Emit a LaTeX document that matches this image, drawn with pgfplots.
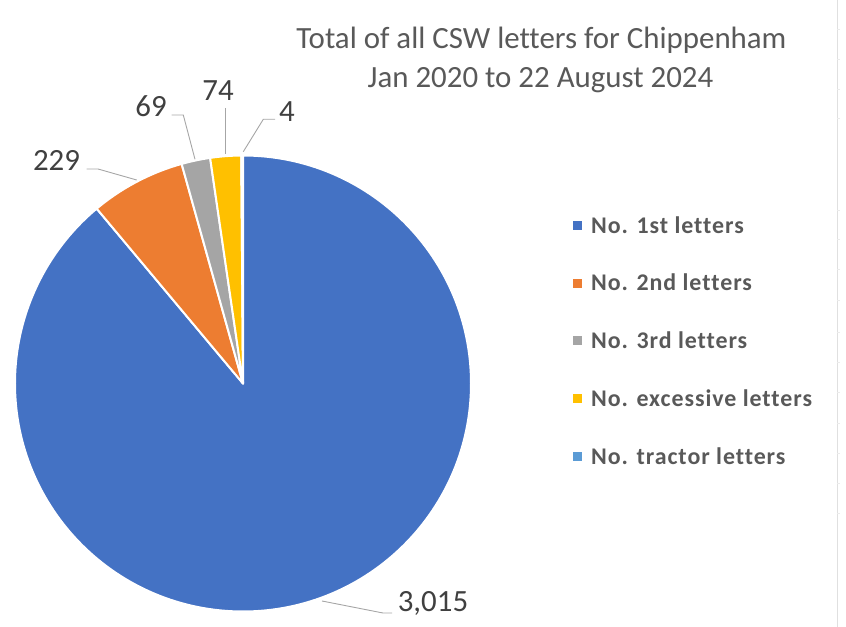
\documentclass[border=0pt]{standalone}
\usepackage{pgfplots}
\pgfplotsset{compat=1.18}
\usepackage{pgfplotstable}
\usepackage{fontspec}
\setmainfont{Carlito}[Ligatures=NoCommon]

\definecolor{c1}{HTML}{4472C4}
\definecolor{c2}{HTML}{ED7D31}
\definecolor{c3}{HTML}{A5A5A5}
\definecolor{c4}{HTML}{FFC000}
\definecolor{c5}{HTML}{5B9BD5}
\definecolor{txt}{HTML}{595959}
\definecolor{lbl}{HTML}{404040}
\definecolor{lead}{HTML}{A6A6A6}

% letters per category
\pgfplotstableread{
value
3015
229
69
74
4
}\piedata

\pgfplotstablegetelem{0}{value}\of\piedata \let\va\pgfplotsretval
\pgfplotstablegetelem{1}{value}\of\piedata \let\vb\pgfplotsretval
\pgfplotstablegetelem{2}{value}\of\piedata \let\vc\pgfplotsretval
\pgfplotstablegetelem{3}{value}\of\piedata \let\vd\pgfplotsretval
\pgfplotstablegetelem{4}{value}\of\piedata \let\ve\pgfplotsretval
\pgfmathsetmacro\total{\va+\vb+\vc+\vd+\ve}
% clockwise from 12 o'clock
\pgfmathsetmacro\aA{90}
\pgfmathsetmacro\aB{\aA-360*(\va/\total)}
\pgfmathsetmacro\aC{\aB-360*(\vb/\total)}
\pgfmathsetmacro\aD{\aC-360*(\vc/\total)}
\pgfmathsetmacro\aE{\aD-360*(\vd/\total)}
\pgfmathsetmacro\aF{\aE-360*(\ve/\total)}

\newcommand{\pieslice}[3]{%
  \filldraw[fill=#1, draw=white, line width=2bp, line join=round]
    (axis cs:243,243.5) -- ++(#2:228bp) arc[start angle=#2, end angle=#3, radius=228bp] -- cycle;}

\begin{document}
\begin{tikzpicture}
\useasboundingbox (0,0) rectangle (846bp,627bp);
\begin{axis}[
    at={(0,0)}, anchor=origin,
    x=1bp, y=1bp,
    xmin=0, xmax=846, ymin=0, ymax=627,
    hide axis, clip=false,
]
    \pieslice{c1}{\aA}{\aB}
    \pieslice{c2}{\aB}{\aC}
    \pieslice{c3}{\aC}{\aD}
    \pieslice{c4}{\aD}{\aE}
    \pieslice{c5}{\aE}{\aF}

    % leader lines
    \draw[lead, line width=0.9bp] (axis cs:322,26) -- (axis cs:383,14) -- (axis cs:392,14);
    \draw[lead, line width=0.9bp] (axis cs:86.7,458) -- (axis cs:98,458) -- (axis cs:136.7,447);
    \draw[lead, line width=0.9bp] (axis cs:171.7,512) -- (axis cs:183.3,512) -- (axis cs:195,467.7);
    \draw[lead, line width=0.9bp] (axis cs:225.7,519) -- (axis cs:225.7,473);
    \draw[lead, line width=0.9bp] (axis cs:275,507.7) -- (axis cs:263.3,507.7) -- (axis cs:243.3,475.3);

    % data labels
    \begin{scope}[every node/.style={text=lbl, font=\fontsize{31}{36}\selectfont, inner sep=0pt}]
    \node at (axis cs:433,23.5) {3,015};
    \node at (axis cs:56.5,467) {229};
    \node at (axis cs:151,520.5) {69};
    \node at (axis cs:218,536) {74};
    \node at (axis cs:287,515) {4};
    \end{scope}

    % title
    \node[text=txt, font=\fontsize{31}{36}\selectfont, anchor=base, inner sep=0pt] at (axis cs:541.5,578) {Total of all CSW letters for Chippenham};
    \node[text=txt, font=\fontsize{31}{36}\selectfont, anchor=base, inner sep=0pt] at (axis cs:540.5,539) {Jan 2020 to 22 August 2024};

    % legend
    \begin{scope}[every node/.style={text=txt, font=\bfseries\fontsize{24}{28}\selectfont\addfontfeatures{LetterSpace=4}, anchor=base west, inner sep=0pt}]
    \fill[c1] (axis cs:572.5,396.5) rectangle (axis cs:581.5,405.5);
    \node at (axis cs:591,393.7) {No. 1st letters};
    \fill[c2] (axis cs:572.5,339.2) rectangle (axis cs:581.5,348.2);
    \node at (axis cs:591,336.2) {No. 2nd letters};
    \fill[c3] (axis cs:572.5,281.8) rectangle (axis cs:581.5,290.8);
    \node at (axis cs:591,278.8) {No. 3rd letters};
    \fill[c4] (axis cs:572.5,223.5) rectangle (axis cs:581.5,232.5);
    \node at (axis cs:591,220.5) {No. excessive letters};
    \fill[c5] (axis cs:572.5,165.8) rectangle (axis cs:581.5,174.8);
    \node at (axis cs:591,162.8) {No. tractor letters};
    \end{scope}

    % sheet edge
    \draw[black!12, line width=1bp] (axis cs:837.3,0) -- (axis cs:837.3,627);
    \pgfplotsinvokeforeach{29,59,89,118,210,239,269,300,332,362,392,423,453,483,513}{
        \draw[black!8, line width=0.8bp] (axis cs:837.3,627-#1) -- (axis cs:840,627-#1);
    }
\end{axis}
\end{tikzpicture}
\end{document}
